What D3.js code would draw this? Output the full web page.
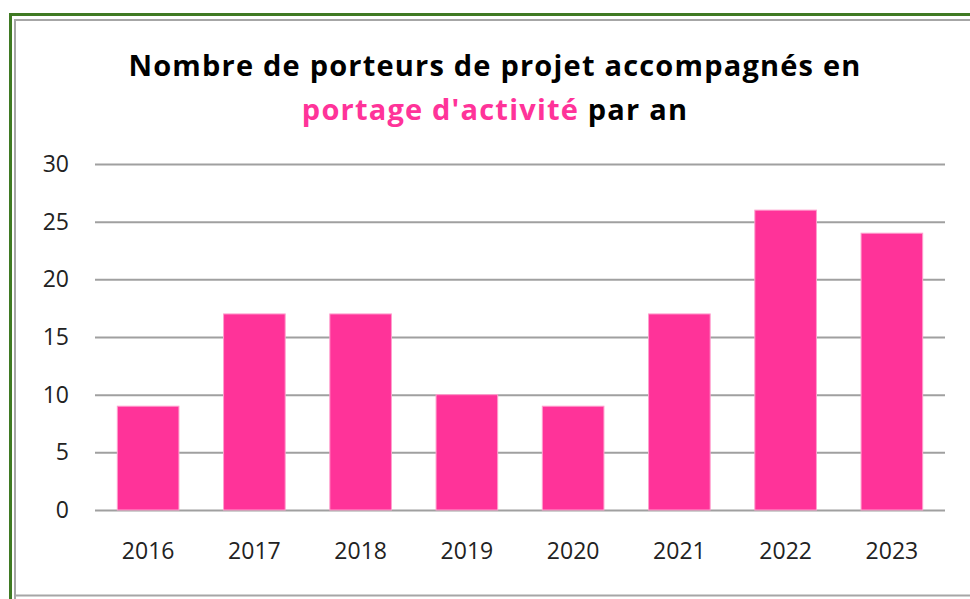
<!DOCTYPE html>
<meta charset="utf-8">
<script src="https://d3js.org/d3.v7.min.js"></script>
<style>
  body { margin: 0; background: #fff; }
  svg text { font-family: "Open Sans", sans-serif; }
</style>
<div id="chart"></div>
<script>
  // data
  const years = ["2016", "2017", "2018", "2019", "2020", "2021", "2022", "2023"];
  const porteurs = [9, 17, 17, 10, 9, 17, 26, 24];
  const yTicks = [0, 5, 10, 15, 20, 25, 30];

  const W = 970, H = 599;
  const margin = {top: 164, right: 25, bottom: 89, left: 95};
  const width = W - margin.left - margin.right,
        height = H - margin.top - margin.bottom;

  const svg = d3.select("#chart").append("svg")
      .attr("width", W)
      .attr("height", H);

  // frame: green outer border, gray inner border
  svg.append("path")
    .attr("d", `M10.5,${H} V14.5 H${W}`)
    .attr("fill", "none").attr("stroke", "#3f7a23").attr("stroke-width", 3);
  svg.append("path")
    .attr("d", `M15,${H} V20 H${W}`)
    .attr("fill", "none").attr("stroke", "#a6a6a6").attr("stroke-width", 2);
  svg.append("line")
    .attr("x1", 15).attr("x2", W).attr("y1", 595.5).attr("y2", 595.5)
    .attr("stroke", "#a6a6a6").attr("stroke-width", 2);

  // title
  const title = svg.append("text")
    .attr("text-anchor", "middle")
    .attr("x", 495)
    .style("font-weight", "bold")
    .style("font-size", "29px")
    .style("letter-spacing", "1.2px");
  title.append("tspan").attr("x", 495).attr("y", 76)
    .attr("fill", "#000").text("Nombre de porteurs de projet accompagnés en");
  title.append("tspan").attr("x", 495).attr("y", 120)
    .attr("fill", "#ff3399").text("portage d'activité");
  title.append("tspan").attr("fill", "#000").text(" par an");

  const g = svg.append("g")
    .attr("transform", `translate(${margin.left},${margin.top})`);

  const x = d3.scaleBand()
    .domain(years)
    .range([0, width])
    .paddingInner(0.42)
    .paddingOuter(0.21);

  const y = d3.scaleLinear()
    .domain([0, 30])
    .range([height, 0]);

  // gridlines + y labels
  const yAxis = g.append("g")
    .call(d3.axisLeft(y).tickValues(yTicks).tickSize(-width).tickPadding(26));
  yAxis.select(".domain").remove();
  yAxis.selectAll(".tick line").attr("stroke", "#a0a0a0").attr("stroke-width", 2);
  yAxis.selectAll(".tick text")
    .attr("fill", "#222")
    .style("font-size", "23px")
    .style("font-family", "'Open Sans', sans-serif");

  // bars
  g.selectAll(".bar")
    .data(years)
    .join("rect")
      .attr("class", "bar")
      .attr("x", d => x(d))
      .attr("width", x.bandwidth())
      .attr("y", (d, i) => y(porteurs[i]))
      .attr("height", (d, i) => y(0) - y(porteurs[i]))
      .attr("fill", "#ff3399")
      .attr("stroke", "#ff9fce")
      .attr("stroke-width", 1);

  // x labels
  const xAxis = g.append("g")
    .attr("transform", `translate(0,${height})`)
    .call(d3.axisBottom(x).tickSize(0).tickPadding(33));
  xAxis.select(".domain").remove();
  xAxis.selectAll(".tick text")
    .attr("fill", "#222")
    .style("font-size", "23px")
    .style("font-family", "'Open Sans', sans-serif");
</script>
